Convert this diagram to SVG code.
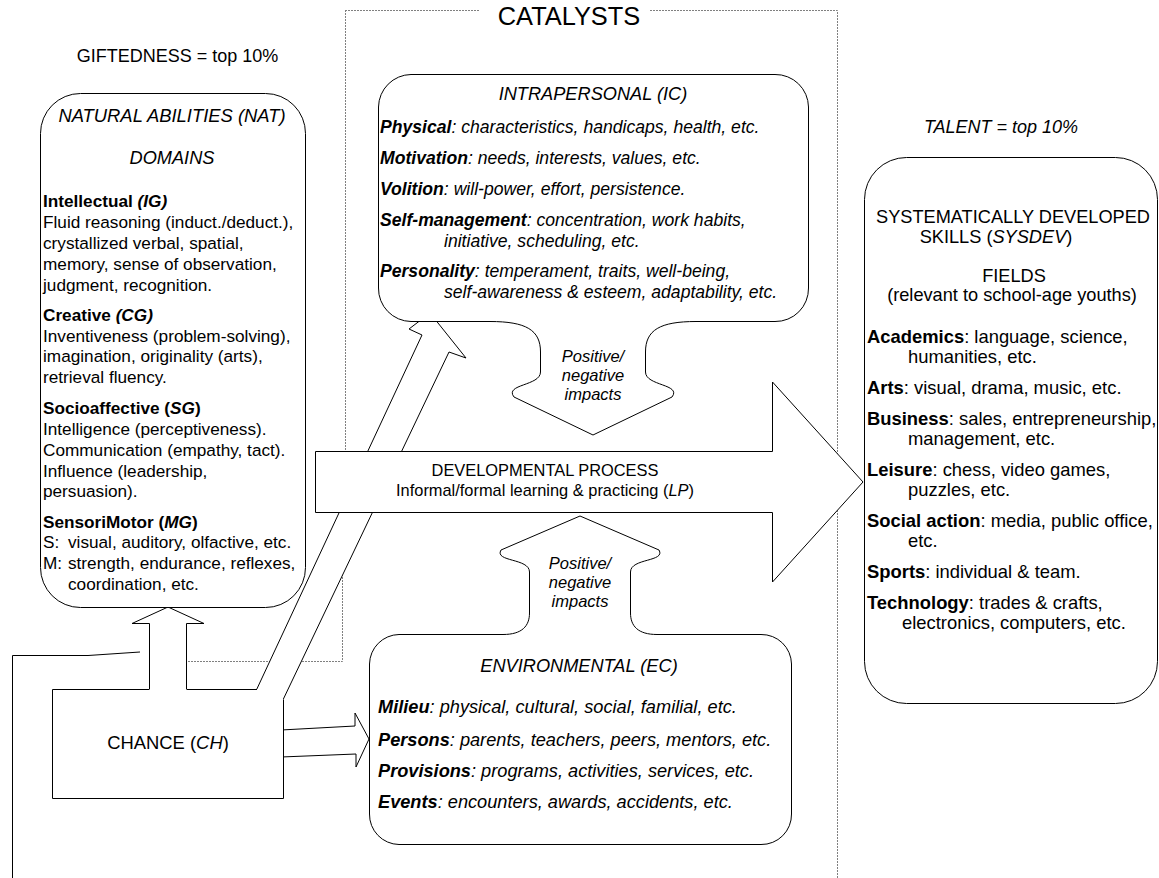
<svg xmlns="http://www.w3.org/2000/svg" width="1159" height="878" viewBox="0 0 1159 878">
<style>
text { font-family: "Liberation Sans", Arial, sans-serif; font-size: 17.5px; fill: #000; }
.t { font-size: 18.2px; }
.it { font-style: italic; }
.b { font-weight: bold; }
.c { text-anchor: middle; }
.nat { font-size: 17.2px; }
.ic { font-size: 17.6px; }
.ec { font-size: 18.2px; }
.sd { font-size: 18.4px; }
.pn { font-size: 16.5px; font-style: italic; text-anchor: middle; }
.dp { font-size: 16.4px; text-anchor: middle; }
.shape { fill: #fff; stroke: #000; stroke-width: 1; }
.line { fill: none; stroke: #000; stroke-width: 1; }
.dot { fill: none; stroke: #808080; stroke-width: 1; stroke-dasharray: 2 1; }
</style>
<rect width="1159" height="878" fill="#fff"/>

<g id="catalysts-frame">
  <path class="dot" d="M345,10.5 H480 M650,10.5 H837.5 V878 M345.5,10 V480 H342.5 V661.5 H186"/>
  <text x="569" y="25" class="c" style="font-size:25.4px">CATALYSTS</text>
</g>

<g id="connectors">
  <path class="line" d="M140,652 L88,655.5 H12.5 V878"/>
  <polygon class="shape" points="149.5,691 149.5,623.5 132,623.5 168,607 204,623.5 186.5,623.5 186.5,691"/>
  <polygon class="shape" points="255,693 422,335 409,329 430,313 466,358 449,352 281,704"/>
  <polygon class="shape" points="281,730 355,726 355,713 369,739 356,767 356,754 281,757"/>
</g>

<g id="chance">
  <rect x="52" y="689" width="231" height="109" fill="#fff"/>
  <path class="line" d="M149.5,689.5 H52.5 V798.5 H283.5 V700 M257,689.5 H186.5"/>
  <text x="168" y="749" class="c" style="font-size:18.4px">CHANCE (<tspan class="it">CH</tspan>)</text>
</g>

<g id="developmental-process">
  <path class="shape" d="M315.5,451.5 H772.5 V382 L863,482 L772.5,582 V512.5 H315.5 Z"/>
  <text x="545" y="476" class="dp">DEVELOPMENTAL PROCESS</text>
  <text x="545" y="496" class="dp">Informal/formal learning &amp; practicing (<tspan class="it">LP</tspan>)</text>
</g>

<g id="intrapersonal">
  <path class="shape" d="M411,74.5 H775 A33,33 0 0 1 808.5,107 V288 A33,33 0 0 1 775,321.5 H696 C660,321.5 645.5,330 645.5,352 V372 C645.5,386 682,384 672,397 L593,435 L514,397 C504,384 540.5,386 540.5,372 V352 C540.5,330 526,321.5 490,321.5 H411 A33,33 0 0 1 378.5,288 V107 A33,33 0 0 1 411,74.5 Z"/>
  <text x="593" y="100" class="c t it">INTRAPERSONAL (IC)</text>
  <text x="380" y="133" class="it ic"><tspan class="b">Physical</tspan>: characteristics, handicaps, health, etc.</text>
  <text x="380" y="164" class="it ic"><tspan class="b">Motivation</tspan>: needs, interests, values, etc.</text>
  <text x="380" y="195" class="it ic"><tspan class="b">Volition</tspan>: will-power, effort, persistence.</text>
  <text x="380" y="226" class="it ic"><tspan class="b">Self-management</tspan>: concentration, work habits,</text>
  <text x="444" y="247" class="it ic">initiative, scheduling, etc.</text>
  <text x="380" y="277" class="it ic"><tspan class="b">Personality</tspan>: temperament, traits, well-being,</text>
  <text x="444" y="298" class="it ic">self-awareness &amp; esteem, adaptability, etc.</text>
  <text x="593" y="362" class="pn">Positive/</text>
  <text x="593" y="381" class="pn">negative</text>
  <text x="593" y="400" class="pn">impacts</text>
</g>

<g id="environmental">
  <path class="shape" d="M399,634.5 H503 C522,634.5 529.5,626 529.5,613 V572 C529.5,558 494,562 501,550 L580,516 L659,550 C666,562 630.5,558 630.5,572 V613 C630.5,626 638,634.5 657,634.5 H761 A30,30 0 0 1 791.5,664 V814 A30,30 0 0 1 761,844.5 H399 A30,30 0 0 1 369.5,814 V664 A30,30 0 0 1 399,634.5 Z"/>
  <text x="580" y="569" class="pn">Positive/</text>
  <text x="580" y="588" class="pn">negative</text>
  <text x="580" y="607" class="pn">impacts</text>
  <text x="579" y="672" class="c t it">ENVIRONMENTAL (EC)</text>
  <text x="378" y="713" class="it ec"><tspan class="b">Milieu</tspan>: physical, cultural, social, familial, etc.</text>
  <text x="378" y="746" class="it ec"><tspan class="b">Persons</tspan>: parents, teachers, peers, mentors, etc.</text>
  <text x="378" y="777" class="it ec"><tspan class="b">Provisions</tspan>: programs, activities, services, etc.</text>
  <text x="378" y="808" class="it ec"><tspan class="b">Events</tspan>: encounters, awards, accidents, etc.</text>
</g>

<g id="natural-abilities">
  <text x="177.5" y="61.5" class="c" style="font-size:18px">GIFTEDNESS = top 10%</text>
  <rect class="shape" x="40.5" y="93.5" width="265" height="514" rx="40" ry="40"/>
  <text x="172" y="122" class="c it" style="font-size:18.4px">NATURAL ABILITIES (NAT)</text>
  <text x="172" y="164" class="c t it">DOMAINS</text>
  <text x="43" y="207" class="b nat">Intellectual <tspan class="it">(IG)</tspan></text>
  <text x="43" y="228" class="nat">Fluid reasoning (induct./deduct.),</text>
  <text x="43" y="249" class="nat">crystallized verbal, spatial,</text>
  <text x="43" y="270" class="nat">memory, sense of observation,</text>
  <text x="43" y="291" class="nat">judgment, recognition.</text>
  <text x="43" y="321" class="b nat">Creative <tspan class="it">(CG)</tspan></text>
  <text x="43" y="342" class="nat">Inventiveness (problem-solving),</text>
  <text x="43" y="362" class="nat">imagination, originality (arts),</text>
  <text x="43" y="383" class="nat">retrieval fluency.</text>
  <text x="43" y="414" class="b nat">Socioaffective (<tspan class="it">SG</tspan>)</text>
  <text x="43" y="435" class="nat">Intelligence (perceptiveness).</text>
  <text x="43" y="456" class="nat">Communication (empathy, tact).</text>
  <text x="43" y="477" class="nat">Influence (leadership,</text>
  <text x="43" y="497" class="nat">persuasion).</text>
  <text x="43" y="528" class="b nat">SensoriMotor (<tspan class="it">MG</tspan>)</text>
  <text x="43" y="548" class="nat">S:<tspan x="68">visual, auditory, olfactive, etc.</tspan></text>
  <text x="43" y="569" class="nat">M:<tspan x="68">strength, endurance, reflexes,</tspan></text>
  <text x="68" y="590" class="nat">coordination, etc.</text>
</g>

<g id="talent">
  <text x="1001" y="133" class="c it" style="font-size:18px">TALENT = top 10%</text>
  <rect class="shape" x="864.5" y="157.5" width="293" height="546" rx="42" ry="42"/>
  <text x="1013" y="223" class="c t">SYSTEMATICALLY DEVELOPED</text>
  <text x="996" y="243" class="c t">SKILLS (<tspan class="it">SYSDEV</tspan>)</text>
  <text x="1014" y="282" class="c t">FIELDS</text>
  <text x="1012" y="301" class="c t">(relevant to school-age youths)</text>
  <text x="867" y="343" class="sd"><tspan class="b">Academics</tspan>: language, science,</text>
  <text x="908" y="363" class="sd">humanities, etc.</text>
  <text x="867" y="394" class="sd"><tspan class="b">Arts</tspan>: visual, drama, music, etc.</text>
  <text x="867" y="425" class="sd"><tspan class="b">Business</tspan>: sales, entrepreneurship,</text>
  <text x="908" y="445" class="sd">management, etc.</text>
  <text x="867" y="476" class="sd"><tspan class="b">Leisure</tspan>: chess, video games,</text>
  <text x="908" y="496" class="sd">puzzles, etc.</text>
  <text x="867" y="527" class="sd"><tspan class="b">Social action</tspan>: media, public office,</text>
  <text x="908" y="547" class="sd">etc.</text>
  <text x="867" y="578" class="sd"><tspan class="b">Sports</tspan>: individual &amp; team.</text>
  <text x="867" y="609" class="sd"><tspan class="b">Technology</tspan>: trades &amp; crafts,</text>
  <text x="902" y="629" class="sd">electronics, computers, etc.</text>
</g>
</svg>
